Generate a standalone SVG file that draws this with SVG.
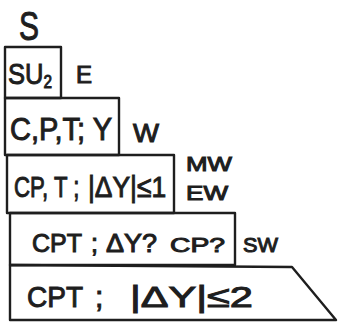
<svg xmlns="http://www.w3.org/2000/svg" width="341" height="328" viewBox="0 0 341 328">
<style>
.b{fill:none;stroke:#1e1e1e;stroke-width:2.4;stroke-linejoin:round}
text{font-family:"Liberation Sans",Arial,sans-serif;fill:#1e1e1e;stroke:#1e1e1e;stroke-width:1;font-weight:normal}
</style>
<rect width="341" height="328" fill="#fff"/>
<text x="19" y="40" style="font-size:40px" textLength="20" lengthAdjust="spacingAndGlyphs">S</text>
<g id="n1"><rect class="b" x="5" y="47" width="56" height="51"/><text transform="translate(8,84) scale(0.85,1)" style="font-size:30px">SU<tspan dy="4" style="font-size:18px">2</tspan></text></g>
<g id="e"><text x="76" y="83" style="font-size:23px" textLength="16" lengthAdjust="spacingAndGlyphs">E</text></g>
<g id="n2"><rect class="b" x="5" y="98" width="114" height="57"/><text x="10" y="140" style="font-size:31px" textLength="102" lengthAdjust="spacingAndGlyphs">C,P,T; Y</text></g>
<g id="w"><text x="133" y="142" style="font-size:26px" textLength="26" lengthAdjust="spacingAndGlyphs">W</text></g>
<g id="n3"><rect class="b" x="7" y="155" width="167" height="58"/><text transform="translate(14,197) scale(0.74,1)" style="font-size:30px">CP, T ;</text><text transform="translate(88,197) scale(0.88,1)" style="font-size:30px">|ΔY|≤1</text></g>
<g id="mw"><text x="186" y="171" style="font-size:20px" textLength="46" lengthAdjust="spacingAndGlyphs">MW</text><text x="186" y="200" style="font-size:20px" textLength="42" lengthAdjust="spacingAndGlyphs">EW</text></g>
<g id="n4"><rect class="b" x="10" y="213" width="225" height="52"/><text x="32" y="252" style="font-size:25px" textLength="50" lengthAdjust="spacingAndGlyphs">CPT</text><text x="91" y="252" style="font-size:25px">;</text><text x="106" y="252" style="font-size:25px" textLength="51" lengthAdjust="spacingAndGlyphs">ΔY?</text><text x="170" y="252" style="font-size:21px" textLength="55" lengthAdjust="spacingAndGlyphs">CP?</text></g>
<g id="sw"><text x="243" y="252" style="font-size:21px" textLength="35" lengthAdjust="spacingAndGlyphs">SW</text></g>
<g id="n5"><path class="b" d="M10 265 L292 267 L336 320 L10 320 Z"/><text x="27" y="307" style="font-size:30px" textLength="56" lengthAdjust="spacingAndGlyphs">CPT</text><text x="95" y="307" style="font-size:30px">;</text><text x="130" y="307" style="font-size:30px" textLength="123" lengthAdjust="spacingAndGlyphs">|ΔY|≤2</text></g>
</svg>
